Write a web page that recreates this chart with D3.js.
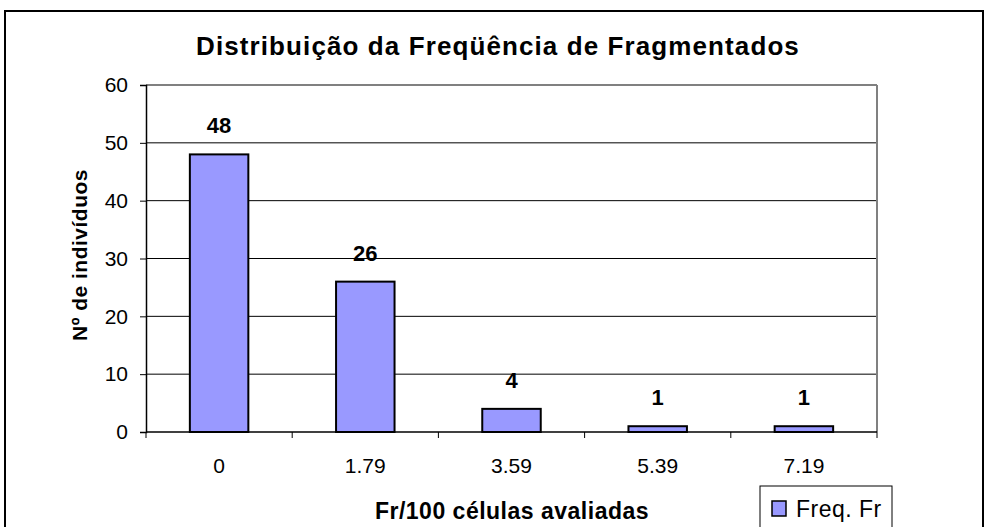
<!DOCTYPE html>
<html>
<head>
<meta charset="utf-8">
<script src="https://cdn.jsdelivr.net/npm/d3@7"></script>
<style>
  body { margin: 0; background: #fff; }
  text { font-family: "Liberation Sans", Arial, sans-serif; }
</style>
</head>
<body>
<svg id="chart" width="986" height="527"></svg>
<script>
// data
const categories = ['0', '1.79', '3.59', '5.39', '7.19']
const freq = [48, 26, 4, 1, 1]
const yTicks = [0, 10, 20, 30, 40, 50, 60]

const svg = d3.select('#chart')

// outer chart frame
svg.append('rect')
  .attr('x', 5).attr('y', 11)
  .attr('width', 978).attr('height', 530)
  .attr('fill', '#fff').attr('stroke', '#000').attr('stroke-width', 2)

const plot = { left: 146, right: 877, top: 85, bottom: 432 }

const x = d3.scaleBand()
  .domain(categories)
  .range([plot.left, plot.right])
  .paddingInner(0.6)
  .paddingOuter(0.3)

const xEdge = d3.scaleBand().domain(categories).range([plot.left, plot.right])

const y = d3.scaleLinear().domain([0, 60]).range([plot.bottom, plot.top])

// gridlines
svg.append('g')
  .selectAll('line')
  .data(yTicks.filter(d => d > 0))
  .enter().append('line')
  .attr('x1', plot.left).attr('x2', plot.right)
  .attr('y1', d => y(d)).attr('y2', d => y(d))
  .attr('stroke', d => d == 60 ? '#808080' : '#000')
  .attr('stroke-width', d => d == 60 ? 2 : 1)

// right side of plot area
svg.append('line')
  .attr('x1', plot.right).attr('x2', plot.right)
  .attr('y1', plot.top).attr('y2', plot.bottom)
  .attr('stroke', '#808080').attr('stroke-width', 2)

// bars
svg.append('g')
  .selectAll('rect')
  .data(freq)
  .enter().append('rect')
  .attr('x', (d, i) => x(categories[i]))
  .attr('y', d => y(d))
  .attr('width', x.bandwidth())
  .attr('height', d => plot.bottom - y(d))
  .attr('fill', '#9999ff')
  .attr('stroke', '#000')
  .attr('stroke-width', 2)

// value labels
svg.append('g')
  .selectAll('text')
  .data(freq)
  .enter().append('text')
  .attr('x', (d, i) => x(categories[i]) + x.bandwidth() / 2)
  .attr('y', d => y(d) - 21)
  .attr('text-anchor', 'middle')
  .attr('font-size', 22).attr('font-weight', 'bold')
  .text(d => d)

// y axis
const yAxis = svg.append('g')
  .attr('transform', `translate(${plot.left},0)`)
  .call(d3.axisLeft(y).tickValues(yTicks).tickSize(6).tickPadding(12))
yAxis.select('.domain').attr('stroke', '#000').attr('stroke-width', 1.5)
yAxis.selectAll('.tick line').attr('stroke', '#000')
yAxis.selectAll('.tick text')
  .attr('font-family', '"Liberation Sans", Arial, sans-serif')
  .attr('font-size', 21).attr('fill', '#000')

// x axis: ticks sit between categories
const xAxis = svg.append('g')
  .attr('transform', `translate(0,${plot.bottom})`)
xAxis.append('line')
  .attr('x1', plot.left).attr('x2', plot.right)
  .attr('stroke', '#000').attr('stroke-width', 1.5)
xAxis.selectAll('.tk')
  .data(categories.concat(['end']))
  .enter().append('line')
  .attr('class', 'tk')
  .attr('x1', (d, i) => i < categories.length ? xEdge(d) : plot.right)
  .attr('x2', (d, i) => i < categories.length ? xEdge(d) : plot.right)
  .attr('y1', 0).attr('y2', 6)
  .attr('stroke', '#000')
xAxis.selectAll('.lbl')
  .data(categories)
  .enter().append('text')
  .attr('class', 'lbl')
  .attr('x', d => xEdge(d) + xEdge.bandwidth() / 2)
  .attr('y', 41)
  .attr('text-anchor', 'middle')
  .attr('font-size', 21)
  .text(d => d)

// titles
svg.append('text')
  .attr('x', 498).attr('y', 55)
  .attr('text-anchor', 'middle')
  .attr('font-size', 26).attr('font-weight', 'bold')
  .attr('letter-spacing', 1.1)
  .text('Distribuição da Freqüência de Fragmentados')

svg.append('text')
  .attr('transform', `translate(87,255) rotate(-90)`)
  .attr('text-anchor', 'middle')
  .attr('font-size', 21).attr('font-weight', 'bold')
  .attr('letter-spacing', 0.5)
  .text('Nº de indivíduos')

svg.append('text')
  .attr('x', 512).attr('y', 519)
  .attr('text-anchor', 'middle')
  .attr('font-size', 23).attr('font-weight', 'bold')
  .attr('letter-spacing', 0.5)
  .text('Fr/100 células avaliadas')

// legend
const legend = svg.append('g').attr('transform', 'translate(760,486)')
legend.append('rect')
  .attr('width', 132).attr('height', 50)
  .attr('fill', '#fff').attr('stroke', '#000').attr('stroke-width', 1)
legend.append('rect')
  .attr('x', 12).attr('y', 15).attr('width', 14).attr('height', 15)
  .attr('fill', '#9999ff').attr('stroke', '#000').attr('stroke-width', 1.5)
legend.append('text')
  .attr('x', 36).attr('y', 31)
  .attr('font-size', 23)
  .attr('letter-spacing', 0.5)
  .text('Freq. Fr')
</script>
</body>
</html>
